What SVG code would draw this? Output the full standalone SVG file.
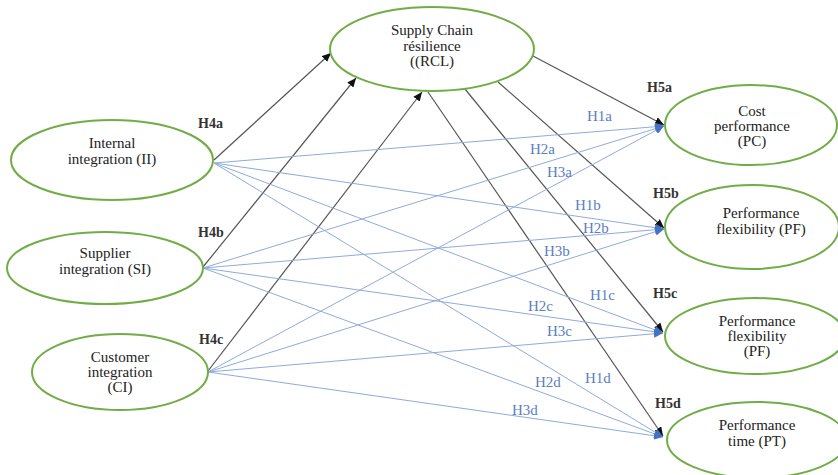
<svg xmlns="http://www.w3.org/2000/svg" width="838" height="475" viewBox="0 0 838 475">
<style>
.node{fill:#fff;stroke:#70ad47;stroke-width:2}
.t{font-family:"Liberation Serif","Times New Roman",serif;font-size:15px;fill:#222;text-anchor:middle}
.blue{stroke:#8faadc;stroke-width:1;fill:none;marker-end:url(#ab)}
.blk{stroke:#555;stroke-width:1.2;fill:none;marker-end:url(#ak)}
.hb{font-family:"Liberation Serif","Times New Roman",serif;font-size:15px;fill:#5a7ec2}
.hk{font-family:"Liberation Serif","Times New Roman",serif;font-size:14px;font-weight:bold;fill:#333}
</style>
<defs>
<marker id="ab" markerUnits="userSpaceOnUse" markerWidth="9" markerHeight="8" refX="9" refY="4" orient="auto"><path d="M0,0 L9,4 L0,8 z" fill="#4472c4"/></marker>
<marker id="ak" markerUnits="userSpaceOnUse" markerWidth="9" markerHeight="8" refX="9" refY="4" orient="auto"><path d="M0,0 L9,4 L0,8 z" fill="#111"/></marker>
</defs>
<rect width="838" height="475" fill="#fff"/>
<g id="connectors">
<line class="blk" x1="214" y1="160" x2="331" y2="53"/>
<line class="blk" x1="203" y1="267" x2="356" y2="78"/>
<line class="blk" x1="208" y1="371" x2="422" y2="92"/>
<line class="blk" x1="533" y1="56" x2="664" y2="125"/>
<line class="blk" x1="498" y1="82" x2="664" y2="228"/>
<line class="blk" x1="465" y1="89" x2="663" y2="332"/>
<line class="blk" x1="428" y1="92" x2="663" y2="436"/>
<line class="blue" x1="214" y1="163" x2="664" y2="126"/>
<line class="blue" x1="214" y1="163" x2="664" y2="229"/>
<line class="blue" x1="214" y1="163" x2="663" y2="333"/>
<line class="blue" x1="214" y1="163" x2="663" y2="437"/>
<line class="blue" x1="203" y1="268" x2="664" y2="126"/>
<line class="blue" x1="203" y1="268" x2="664" y2="229"/>
<line class="blue" x1="203" y1="268" x2="663" y2="333"/>
<line class="blue" x1="203" y1="268" x2="663" y2="437"/>
<line class="blue" x1="208" y1="372" x2="664" y2="126"/>
<line class="blue" x1="208" y1="372" x2="664" y2="229"/>
<line class="blue" x1="208" y1="372" x2="663" y2="333"/>
<line class="blue" x1="208" y1="372" x2="663" y2="437"/>
<text class="hk" x="198" y="128">H4a</text>
<text class="hk" x="198" y="237">H4b</text>
<text class="hk" x="199" y="344">H4c</text>
<text class="hk" x="647" y="92">H5a</text>
<text class="hk" x="653" y="198">H5b</text>
<text class="hk" x="653" y="298">H5c</text>
<text class="hk" x="655" y="408">H5d</text>
<text class="hb" x="587" y="121">H1a</text>
<text class="hb" x="530" y="154">H2a</text>
<text class="hb" x="547" y="177">H3a</text>
<text class="hb" x="575" y="210">H1b</text>
<text class="hb" x="583" y="233">H2b</text>
<text class="hb" x="544" y="256">H3b</text>
<text class="hb" x="590" y="300">H1c</text>
<text class="hb" x="528" y="311">H2c</text>
<text class="hb" x="547" y="336">H3c</text>
<text class="hb" x="535" y="387">H2d</text>
<text class="hb" x="585" y="383">H1d</text>
<text class="hb" x="512" y="415">H3d</text>
</g>
<g id="RCL">
<ellipse class="node" cx="432" cy="49" rx="102" ry="42"/>
<text class="t" x="432" y="35">Supply Chain</text>
<text class="t" x="432" y="50.5">résilience</text>
<text class="t" x="432" y="66">((RCL)</text>
</g>
<g id="II">
<ellipse class="node" cx="112" cy="160" rx="101" ry="40"/>
<text class="t" x="112" y="148">Internal</text>
<text class="t" x="112" y="164">integration (II)</text>
</g>
<g id="SI">
<ellipse class="node" cx="105" cy="268" rx="98" ry="36"/>
<text class="t" x="105" y="258">Supplier</text>
<text class="t" x="105" y="274">integration (SI)</text>
</g>
<g id="CI">
<ellipse class="node" cx="120" cy="372" rx="88" ry="38"/>
<text class="t" x="120" y="362">Customer</text>
<text class="t" x="120" y="377">integration</text>
<text class="t" x="120" y="392">(CI)</text>
</g>
<g id="PC">
<ellipse class="node" cx="751" cy="125" rx="86" ry="40"/>
<text class="t" x="752" y="116">Cost</text>
<text class="t" x="752" y="131">performance</text>
<text class="t" x="752" y="146">(PC)</text>
</g>
<g id="PF1">
<ellipse class="node" cx="752" cy="227" rx="87" ry="42"/>
<text class="t" x="761" y="218">Performance</text>
<text class="t" x="761" y="234">flexibility (PF)</text>
</g>
<g id="PF2">
<ellipse class="node" cx="755" cy="336" rx="90" ry="38"/>
<text class="t" x="757" y="326">Performance</text>
<text class="t" x="757" y="341">flexibility</text>
<text class="t" x="757" y="356">(PF)</text>
</g>
<g id="PT">
<ellipse class="node" cx="757" cy="440" rx="90" ry="38"/>
<text class="t" x="757" y="430">Performance</text>
<text class="t" x="757" y="446">time (PT)</text>
</g>
</svg>
